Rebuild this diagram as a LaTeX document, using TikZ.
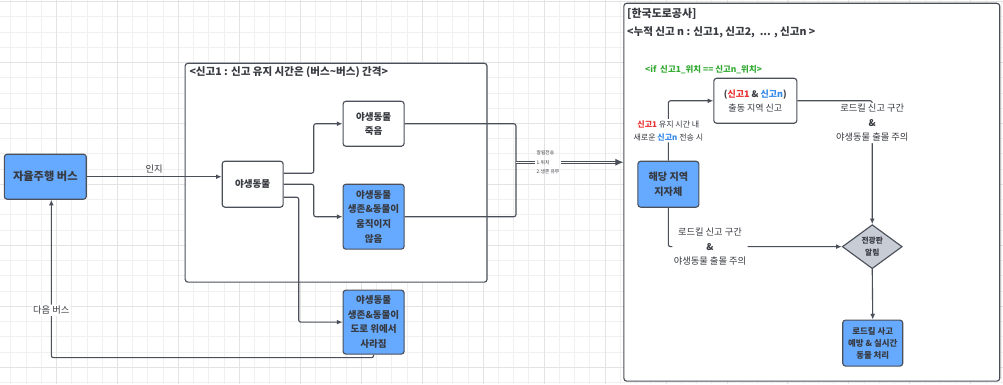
\documentclass[tikz,border=0pt]{standalone}
\usepackage{fontspec}
\setmainfont{Noto Sans CJK KR}
\usepackage{xcolor}
\usetikzlibrary{positioning,arrows.meta,calc,shapes.geometric}
\definecolor{lineg}{RGB}{74,79,90}
\definecolor{txtg}{RGB}{55,58,64}
\definecolor{boxblue}{RGB}{102,170,255}
\definecolor{signgray}{RGB}{200,204,212}
\definecolor{repred}{RGB}{235,50,50}
\definecolor{repblue}{RGB}{50,135,235}
\definecolor{condgreen}{RGB}{50,170,50}
\tikzset{
  minorgrid/.style={line width=0.4pt, draw=black!6},
  majorgrid/.style={line width=0.5pt, draw=black!11},
  panel/.style={draw=lineg, fill=white, rounded corners=2pt, line width=0.8pt, inner sep=0pt},
  paneltitle/.style={inner sep=0pt, text=txtg, font=\bfseries\fontsize{7.5}{9}\selectfont},
  plainbox/.style={draw=lineg, fill=white, rounded corners=2pt, line width=0.8pt,
                   minimum width=1.525cm, minimum height=1.125cm, inner sep=1pt,
                   align=center, text=txtg, font=\bfseries\fontsize{6.8}{10.4}\selectfont},
  bluebox/.style={plainbox, fill=boxblue},
  signbox/.style={diamond, draw=lineg, fill=signgray, line width=0.8pt, minimum width=1.5cm,
                  minimum height=1.1cm, inner sep=0pt, align=center, text=txtg,
                  font=\bfseries\fontsize{5.5}{8}\selectfont},
  edge/.style={-{Latex[length=1.4mm,width=1.2mm]}, line width=0.8pt, draw=lineg, rounded corners=1.5pt},
  link/.style={line width=0.8pt, draw=lineg, rounded corners=1.5pt},
  dblline/.style={double=white, double distance=0.9pt, line width=0.7pt, draw=lineg},
  lbl/.style={fill=white, inner sep=1pt, align=center, text=txtg, font=\fontsize{6.6}{10.3}\selectfont},
  freelbl/.style={inner sep=1pt, align=center, text=txtg, font=\fontsize{6.6}{9}\selectfont},
  sendlbl/.style={inner sep=1pt, align=left, text=txtg, font=\fontsize{3.4}{7}\selectfont},
  condlbl/.style={inner sep=0pt, text=condgreen, font=\bfseries\fontsize{6}{8}\selectfont}
}

\begin{document}
\begin{tikzpicture}[x=0.025cm, y=-0.025cm]
    % background grid
    \fill[white] (0,0) rectangle (1003,384);
    \foreach \gx in {10.25,25.5,...,1003} \draw[minorgrid] (\gx,0) -- (\gx,384);
    \foreach \gy in {1,16.25,...,384} \draw[minorgrid] (0,\gy) -- (1003,\gy);
    \foreach \gx in {56,117,...,1003} \draw[majorgrid] (\gx,0) -- (\gx,384);
    \foreach \gy in {1,62,...,384} \draw[majorgrid] (0,\gy) -- (1003,\gy);
    \useasboundingbox (0,0) rectangle (1003,384);

    % panels
    \node[panel, minimum width=7.55cm, minimum height=5.475cm] (alertbox) at (336,172.5) {};
    \node[paneltitle, anchor=west] (alerttitle) at (189,72) {<신고1 : 신고 유지 시간은 (버스\textasciitilde 버스) 간격>};
    \node[panel, minimum width=9.4cm, minimum height=9.45cm] (kec) at (812,192) {};
    \node[paneltitle, anchor=west, font=\bfseries\fontsize{7.8}{9}\selectfont] (kectitle) at (627,13) {[한국도로공사]};
    \node[paneltitle, anchor=west] (kecsum) at (627,32) {<누적 신고 n : 신고1, 신고2,~ ... , 신고n >};
    \node[condlbl, anchor=west] (cond) at (645,69) {<if~~신고1\_위치 == 신고n\_위치>};

    % boxes
    \node[bluebox, minimum width=2.05cm, font=\bfseries\fontsize{8}{10}\selectfont] (bus) at (45,176.5) {자율주행 버스};
    \node[plainbox, minimum height=1.15cm] (animal) at (252.5,184) {야생동물};
    \node[plainbox] (dead) at (373.5,123.5) {야생동물\\죽음};
    \node[bluebox, minimum height=1.625cm] (still) at (373.5,216.5) {야생동물\\생존\&동물이\\움직이지\\않음};
    \node[bluebox, minimum height=1.6cm] (gone) at (373.5,322) {야생동물\\생존\&동물이\\도로 위에서\\사라짐};
    \node[plainbox, minimum width=2.075cm, font=\fontsize{6.4}{10}\selectfont] (report) at (755.5,100.5)
        {\textbf{(\textcolor{repred}{신고1} \& \textcolor{repblue}{신고n})}\\출동 지역 신고};
    \node[bluebox, minimum height=1.15cm, font=\bfseries\fontsize{7.2}{10}\selectfont] (local) at (668.5,184) {해당 지역\\지자체};
    \node[signbox] (sign) at (872.5,246.5) {전광판\\알림};
    \node[bluebox, minimum width=1.5cm, minimum height=1.15cm, font=\bfseries\fontsize{6}{8.5}\selectfont] (handle) at (873,343) {로드킬 사고\\예방 \& 실시간\\동물 처리};

    % connectors
    \draw[edge] (bus.east) -- node[freelbl, above=1pt] {인지} (bus.east -| animal.west);
    \draw[edge] ($(animal.east)+(0,-11)$) -- ++(30,0) |- (dead.west);
    \draw[edge] (animal.east) -- ++(30,0) |- (still.west);
    \draw[edge] ($(animal.east)+(0,13)$) -- ++(15,0) |- (gone.west);
    \coordinate (merge) at (516,162);
    \draw[link] (dead.east) -| (merge) |- (still.east);
    \node[sendlbl, anchor=west] (send) at (535,162) {알림전송\\1.위치\\2.생존 유무};
    \draw[dblline] (merge) -- (send.west);
    \draw[dblline, -{Latex[length=2mm,width=1.8mm]}] (send.east) -- (send.east -| kec.west);
    \draw[edge] (local.north) |- node[lbl, pos=0.25, font=\fontsize{5.7}{9.2}\selectfont]
        {\textbf{\textcolor{repred}{신고1}} 유지 시간 내\\새로운 \textbf{\textcolor{repblue}{신고n}} 전송 시} (report.west);
    \draw[edge] (local.south) |- node[lbl, pos=0.62] {로드킬 신고 구간\\\textbf{\&}\\야생동물 출몰 주의} (sign.west);
    \draw[edge] (report.east) -| node[lbl, pos=0.59] {로드킬 신고 구간\\\textbf{\&}\\야생동물 출몰 주의} (sign.north);
    \draw[edge] (sign.south) -- (handle.north);
    \draw[edge] (gone.south) -- ++(0,3) -| node[lbl, pos=0.65] {다음 버스} ($(bus.south)+(6,0)$);
\end{tikzpicture}
\end{document}
